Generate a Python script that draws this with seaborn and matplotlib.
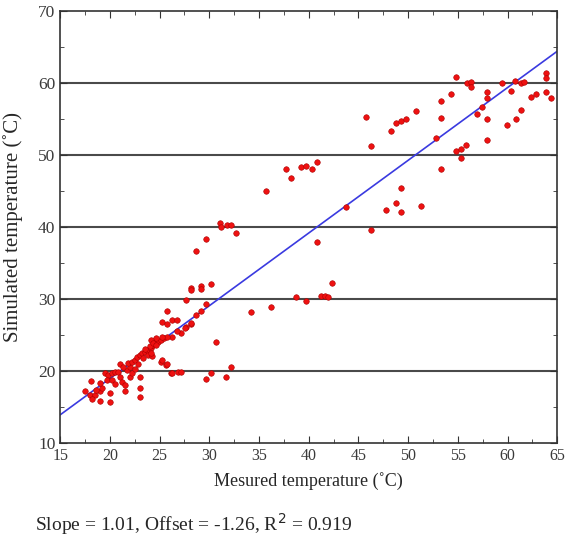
import seaborn as sns
import matplotlib.pyplot as plt
from matplotlib.ticker import MultipleLocator
import numpy as np
import pandas as pd

# measured (x) and simulated (y) temperatures
low_x = [17.5, 18.1, 18.0, 18.5, 18.2, 19.0, 19.0, 19.2, 20.0, 20.0, 19.5, 19.8, 20.2, 20.5,
         20.8, 19.7, 20.2, 21.0, 21.0, 21.2, 21.5, 21.5, 22.0, 22.2, 23.0, 23.0, 23.0, 21.7,
         22.0, 21.8, 22.2, 22.5, 22.7, 23.0, 23.2, 23.5, 23.7, 24.1, 24.3, 24.4, 24.8, 25.1,
         25.4, 25.1, 25.6, 26.1, 26.9, 22.8, 23.3, 23.8, 24.0, 24.6, 21.3, 20.5, 19.0, 18.6,
         22.5, 23.5, 24.2]
low_y = [17.2, 18.6, 16.7, 16.7, 16.1, 15.8, 17.2, 17.6, 16.9, 15.7, 19.7, 19.4, 19.7, 19.9,
         19.9, 18.75, 18.75, 21.0, 19.2, 18.5, 18.0, 17.2, 19.2, 19.7, 19.2, 17.6, 16.4, 20.1,
         20.6, 21.1, 21.25, 21.5, 21.9, 22.2, 22.5, 22.6, 22.9, 23.2, 23.6, 23.9, 24.0, 24.3,
         24.6, 21.25, 20.8, 19.7, 19.9, 21.0, 21.8, 22.2, 23.5, 24.5, 20.5, 18.2, 18.3, 17.3,
         20.2, 23.0, 22.0]

mid_x = [24.1, 24.3, 24.6, 24.1, 25.2, 25.7, 26.2, 27.2, 25.7, 25.2, 25.7, 26.2, 26.7, 28.2,
         27.7, 27.2, 26.7, 26.2, 25.7, 25.2, 27.7, 29.7, 29.2, 28.7, 28.2, 27.6, 28.2, 28.2,
         29.2, 29.2, 30.2, 30.7, 29.7, 30.2, 31.7, 32.2, 28.7, 29.7, 31.1, 31.2, 31.8, 32.2,
         32.7, 34.2, 36.2, 38.7, 39.7, 41.2, 41.6, 41.9, 42.3, 40.8, 35.7, 37.7, 38.2, 39.2,
         39.7, 40.3, 40.8, 43.8]
mid_y = [24.3, 23.9, 23.6, 22.5, 21.5, 21.0, 19.7, 19.9, 28.3, 26.8, 26.5, 27.1, 27.1, 26.5,
         26.1, 25.3, 25.6, 24.7, 24.7, 24.7, 29.9, 29.3, 28.3, 27.8, 26.7, 26.0, 31.5, 31.25,
         31.8, 31.4, 32.0, 24.0, 18.9, 19.7, 19.2, 20.6, 36.6, 38.3, 40.5, 40.0, 40.3, 40.3,
         39.2, 28.2, 28.9, 30.3, 29.7, 30.4, 30.4, 30.3, 32.2, 37.9, 45.0, 48.1, 46.8, 48.3,
         48.5, 48.1, 49.0, 42.8]

high_x = [45.8, 46.3, 48.3, 48.8, 49.3, 49.8, 50.8, 52.8, 53.3, 53.3, 54.3, 54.8, 55.9, 56.3,
          56.3, 54.8, 55.3, 55.8, 55.3, 53.3, 49.3, 48.8, 49.3, 47.8, 51.3, 46.3, 56.9, 57.4,
          57.9, 57.9, 57.9, 57.9, 59.4, 60.4, 59.9, 60.9, 61.4, 61.4, 61.7, 62.4, 62.9, 63.9,
          64.4, 63.9, 63.9, 60.8]
high_y = [55.3, 51.25, 53.3, 54.4, 54.7, 55.0, 56.1, 52.4, 57.5, 55.1, 58.5, 60.8, 60.0, 60.1,
          59.4, 50.6, 50.8, 51.4, 49.6, 48.1, 45.4, 43.3, 42.1, 42.4, 42.9, 39.6, 55.7, 56.7,
          58.75, 57.9, 55.0, 52.1, 60.0, 58.9, 54.2, 55.0, 56.25, 60.0, 60.1, 58.1, 58.5, 58.75,
          57.9, 61.4, 60.7, 60.3]

slope = 1.01
offset = -1.26
r2 = 0.919
x_range = [15, 65]

df = pd.DataFrame({"measured": low_x + mid_x + high_x,
                   "simulated": low_y + mid_y + high_y})

sns.set_style("ticks")
plt.rcParams['font.family'] = ['Liberation Serif', 'DejaVu Serif']

fig = plt.figure(figsize=(5.68, 5.44), dpi=100)
ax = fig.add_axes([0.106, 0.186, 0.875, 0.794])

for yv in [20, 30, 40, 50, 60]:
    ax.axhline(yv, color='#4a4a4a', lw=1.5, zorder=0)

fit_x = np.array(x_range, dtype=float)
sns.lineplot(x=fit_x, y=slope * fit_x + offset, ax=ax, color='#3a3ae0', lw=1.2, zorder=2)
sns.scatterplot(data=df, x="measured", y="simulated", ax=ax, color='#ee1111',
                s=16, edgecolor='#aa0000', linewidth=0.4, zorder=3)

ax.set_xlim(15, 65)
ax.set_ylim(10, 70)
ax.xaxis.set_major_locator(MultipleLocator(5))
ax.xaxis.set_minor_locator(MultipleLocator(2.5))
ax.yaxis.set_major_locator(MultipleLocator(10))
ax.yaxis.set_minor_locator(MultipleLocator(5))
ax.tick_params(which='both', direction='in', top=True, right=True, labelsize=11.5,
               labelcolor='#3a3a3a', color='#333333')
ax.tick_params(axis='y', labelsize=12.5)
ax.tick_params(which='major', length=5)
ax.tick_params(which='minor', length=3)
for sp in ax.spines.values():
    sp.set_linewidth(1.2)
    sp.set_color('#333333')

ax.set_xlabel("Mesured temperature (˚C)", fontsize=13, labelpad=6)
ax.set_ylabel("Simulated temperature (˚C)", fontsize=15, labelpad=11)

fig.text(0.062, 0.012, f"Slope = {slope}, Offset = {offset}, R$^{{2}}$ = {r2}",
         fontsize=14, ha='left', va='bottom')

fig.savefig("out.png", dpi=100)
